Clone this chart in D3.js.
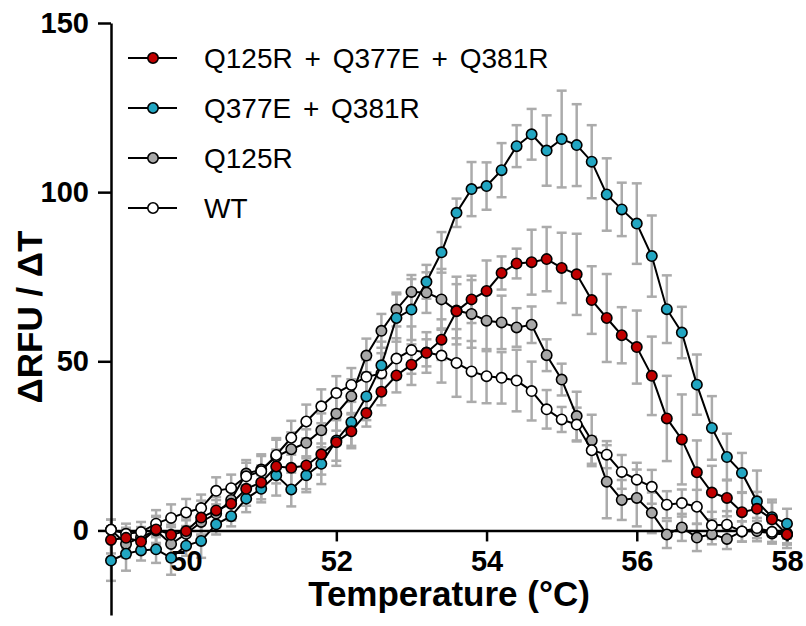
<!DOCTYPE html>
<html><head><meta charset="utf-8">
<script src="https://cdn.jsdelivr.net/npm/d3@7/dist/d3.min.js"></script>
<style>body{margin:0;background:#fff} svg{display:block}</style>
</head><body><svg id="c" width="806" height="626"></svg>
<script>
// Temperature (°C)
const temps = [49.0,49.2,49.4,49.6,49.8,50.0,50.2,50.4,50.6,50.8,
  51.0,51.2,51.4,51.6,51.8,52.0,52.2,52.4,52.6,52.8,
  53.0,53.2,53.4,53.6,53.8,54.0,54.2,54.4,54.6,54.8,
  55.0,55.2,55.4,55.6,55.8,56.0,56.2,56.4,56.6,56.8,
  57.0,57.2,57.4,57.6,57.8,58.0];

const seriesNames = ["Q125R + Q377E + Q381R", "Q377E + Q381R", "Q125R", "WT"];
const seriesColors = ["#c00000", "#22a6c2", "#a8a8a8", "#ffffff"];

const tripleMean = [-2.8,-2.2,-3.3,0.3,-1.3,-0.2,3.8,5.9,7.9,12.3,
  14.2,18.9,18.5,19.2,22.5,26.1,29.3,34.7,41.0,45.8,
  49.0,52.5,56.4,64.8,68.3,70.8,76.1,78.9,79.3,80.2,
  77.6,75.7,68.1,62.8,57.7,54.2,45.7,33.1,26.9,17.2,
  11.2,9.6,5.4,6.4,3.3,-1.2];
const tripleSD = [4,3,3,4,3,4,5,4,5,5,
  5,5,6,7,6,7,5,4,4,5,
  6,4,6,8,7,9,4.9,4.4,9.6,9.5,
  10.4,12,10,13,8.3,10.8,11.6,12.6,13.3,9.4,
  7.9,5.4,5.9,5,5,4];

const doubleMean = [-8.9,-6.9,-5.9,-5.6,-8.1,-4.5,-3.1,1.8,4.2,9.4,
  12.3,16.3,12.1,16.3,19.7,26.6,32.0,39.6,48.8,62.8,
  65.3,73.5,82.2,93.9,100.9,101.8,106.5,113.6,117.1,112.3,
  115.7,113.9,109.0,99.3,94.9,90.7,81.1,65.4,58.5,43.1,
  30.3,21.7,17.0,8.6,3.9,2.0];
const doubleSD = [6,5,3,4,5,3,5,3,3,4,
  4,6,5,5,6,6,7,7,7,7,
  9,5,6,4.2,8,7,8,6.2,7.5,10.4,
  14.3,12.1,10.8,10.7,7.9,11.9,12,10,7.6,8.9,
  9.4,6.9,5.9,9.1,5.2,4.4];

const q125rMean = [0.2,-4,-2,0,-4,-1,2.5,5,9,16.8,
  18,21.8,24,25.9,29.6,34.5,39.7,51.7,59.0,65.3,
  70.5,70.3,68.3,65,64,62,61.5,60,60.8,51.8,
  44.6,33.8,26.6,14.4,9,9.6,5.2,-1.2,0.9,-2.1,
  -1.1,-2.5,-0.3,-0.2,-0.9,-1.2];
const q125rSD = [3,4,3,4,5,4,4,4,4,4,
  4,5,5,4,5,5,5,5,5,5,
  5,6,9,10,10,9,7.9,5.7,5.4,4.7,
  4.7,7.2,7.6,10.8,5.9,8.4,6,4,4,4,
  3,3,3,3,3,3];

const wtMean = [0.2,-1,-0.5,2.0,3.7,5.3,6.6,11.7,12.5,16,
  17.5,22.3,27.4,32.2,36.7,40.6,43,45.4,46.4,50.8,
  53.3,52.6,51.7,49.5,47,45.6,45.1,44.3,41.2,35.8,
  32.8,31.3,23.7,22.4,17.3,15.0,12.9,7.6,8.1,7.0,
  1.5,1.7,-0.3,0.7,-0.4,-0.8];
const wtSD = [3,3,3,4,4,4,4,4,4,4,
  5,5,5,5,5,5,5,5,6,6,
  7,6,8,10,9,8,7.6,9.1,8.7,5.7,
  3.7,5,4,4,5,5,5,4,4,5,
  4,4,3,3,3,3];

const xTicks = [50,52,54,56,58];
const yTicks = [0,50,100,150];

const means = [tripleMean, doubleMean, q125rMean, wtMean];
const sds = [tripleSD, doubleSD, q125rSD, wtSD];
const series = seriesNames.map((name,k)=>({
  name, color: seriesColors[k],
  pts: temps.map((t,i)=>({t, v: means[k][i], sd: sds[k][i]}))
}));

const svg = d3.select("#c");
const x = d3.scaleLinear().domain([49,58]).range([111,787]);
const y = d3.scaleLinear().domain([-25,150]).range([615,23]);
const FONT = "Liberation Sans, Arial, Helvetica, sans-serif";

// error bars
const eb = svg.append("g").attr("stroke","#ababab").attr("stroke-width",2.5).attr("fill","none");
series.forEach(s=>{
  s.pts.forEach(p=>{
    const cx = x(p.t), y1 = y(p.v+p.sd), y2 = y(p.v-p.sd);
    eb.append("line").attr("x1",cx).attr("x2",cx).attr("y1",y1).attr("y2",y2);
    eb.append("line").attr("x1",cx-5).attr("x2",cx+5).attr("y1",y1).attr("y2",y1);
    eb.append("line").attr("x1",cx-5).attr("x2",cx+5).attr("y1",y2).attr("y2",y2);
  });
});

// axes
const yAxis = svg.append("g").attr("transform","translate(111,0)")
  .call(d3.axisLeft(y).tickValues(yTicks).tickSize(13).tickSizeOuter(0).tickPadding(9));
const xAxis = svg.append("g").attr("transform",`translate(0,${y(0)})`)
  .call(d3.axisBottom(x).tickValues(xTicks).tickSize(11).tickSizeOuter(0).tickPadding(9));
[yAxis,xAxis].forEach(g=>{
  g.selectAll("path,line").attr("stroke","#000").attr("stroke-width",2.5);
  g.selectAll("text").attr("font-family",FONT).attr("font-weight","bold").attr("font-size",29).attr("fill","#000");
});

// lines and points (bottom to top: Q125R, WT, double, triple)
const line = d3.line().x(d=>x(d.t)).y(d=>y(d.v));
[2,3,1,0].forEach(k=>{
  const s = series[k];
  const g = svg.append("g");
  g.append("path").attr("d",line(s.pts)).attr("fill","none").attr("stroke","#000").attr("stroke-width",2);
  g.selectAll("circle").data(s.pts).join("circle")
    .attr("cx",d=>x(d.t)).attr("cy",d=>y(d.v)).attr("r",5.2)
    .attr("fill",s.color).attr("stroke","#000").attr("stroke-width",1.6);
});

// axis titles
svg.append("text").attr("x",449).attr("y",606).attr("text-anchor","middle")
  .attr("font-family",FONT).attr("font-weight","bold").attr("font-size",35).text("Temperature (°C)");
svg.append("text").attr("transform","translate(42,317) rotate(-90)").attr("text-anchor","middle")
  .attr("font-family",FONT).attr("font-weight","bold").attr("font-size",35).text("ΔRFU / ΔT");

// legend
const leg = svg.append("g");
series.forEach((s,k)=>{
  const ly = 58 + 50*k;
  leg.append("line").attr("x1",128).attr("x2",177).attr("y1",ly).attr("y2",ly).attr("stroke","#000").attr("stroke-width",2);
  leg.append("circle").attr("cx",153).attr("cy",ly).attr("r",5.2).attr("fill",s.color).attr("stroke","#000").attr("stroke-width",1.6);
  leg.append("text").attr("x",204).attr("y",ly).attr("dy","0.36em").attr("font-family",FONT)
    .attr("font-size",28).attr("word-spacing","4px").attr("fill","#000").text(s.name);
});
</script></body></html>
